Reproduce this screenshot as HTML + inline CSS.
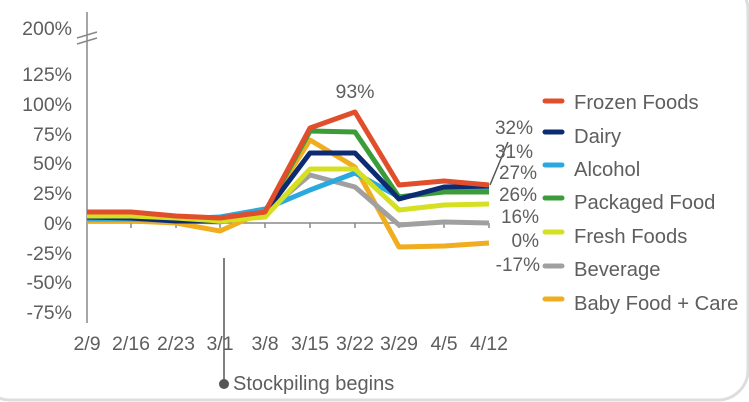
<!DOCTYPE html><html><head><style>body{margin:0;background:#fff}svg{display:block}text{font-family:"Liberation Sans",Arial,sans-serif;fill:#5e5e5e}</style></head><body>
<svg width="749" height="402" viewBox="0 0 749 402">
<rect x="-20" y="-20" width="768" height="420" rx="30" fill="none" stroke="#ddd" stroke-width="3"/>
<g font-size="19.5" text-anchor="end">
<text x="72" y="35">200%</text><text x="72" y="81">125%</text><text x="72" y="111">100%</text><text x="72" y="141">75%</text><text x="72" y="170">50%</text><text x="72" y="200">25%</text><text x="72" y="230">0%</text><text x="72" y="260">-25%</text><text x="72" y="289">-50%</text><text x="72" y="319">-75%</text></g>
<g stroke="#888" stroke-width="1.5" fill="none">
<line x1="87" y1="12" x2="87" y2="323"/><line x1="77" y1="38" x2="97" y2="32"/><line x1="77" y1="44" x2="97" y2="38"/>
<line x1="87" y1="223" x2="489" y2="223"/>
<path d="M131 223v5M176 223v5M220 223v5M265 223v5M310 223v5M355 223v5M399 223v5M444 223v5M489 223v5"/>
<line x1="224" y1="258" x2="224" y2="384" stroke="#555"/>
<line x1="490" y1="185" x2="508" y2="142" stroke="#555"/>
</g>
<circle cx="224" cy="384" r="5" fill="#555"/>
<text x="233" y="390" font-size="20">Stockpiling begins</text>
<g font-size="19.5" text-anchor="middle">
<text x="87" y="350">2/9</text><text x="131" y="350">2/16</text><text x="176" y="350">2/23</text><text x="220" y="350">3/1</text><text x="265" y="350">3/8</text><text x="310" y="350">3/15</text><text x="355" y="350">3/22</text><text x="399" y="350">3/29</text><text x="444" y="350">4/5</text><text x="489" y="350">4/12</text>
<text x="355" y="98">93%</text></g>
<g fill="none" stroke-width="5" stroke-linejoin="round">
<polyline stroke="#f0ad1f" points="87,221 131,221 176,223 220,231 265,211 310,140 355,167 399,247 444,246 489,243"/>
<polyline stroke="#a0a0a0" points="87,219 131,219 176,221 220,222 265,213 310,175 355,187 399,225 444,222 489,223"/>
<polyline stroke="#2aa9df" points="87,219 131,219 176,219 220,217 265,209 310,190 355,173 399,197 444,191 489,191"/>
<polyline stroke="#3c9c3a" points="87,215 131,215 176,217 220,219 265,213 310,131 355,132 399,197 444,192 489,192"/>
<polyline stroke="#0d2b73" points="87,217 131,218 176,221 220,221 265,213 310,153 355,153 399,199 444,187 489,186"/>
<polyline stroke="#d4e021" points="87,216 131,216 176,218 220,221 265,217 310,169 355,169 399,210 444,205 489,204"/>
<polyline stroke="#e04e2b" points="87,212 131,212 176,216 220,218 265,212 310,128 355,112 399,185 444,181 489,185"/>
</g>
<g font-size="19" text-anchor="end">
<text x="533" y="134">32%</text><text x="533" y="158">31%</text><text x="537" y="179">27%</text><text x="537" y="201">26%</text><text x="539" y="223">16%</text><text x="539" y="247">0%</text><text x="540" y="271">-17%</text></g>
<g stroke-width="5" stroke-linecap="round">
<line x1="545" y1="101" x2="562" y2="101" stroke="#e04e2b"/><line x1="545" y1="132" x2="562" y2="132" stroke="#0d2b73"/><line x1="545" y1="165" x2="562" y2="165" stroke="#2aa9df"/><line x1="545" y1="198" x2="562" y2="198" stroke="#3c9c3a"/><line x1="545" y1="232" x2="562" y2="232" stroke="#d4e021"/><line x1="545" y1="266" x2="562" y2="266" stroke="#a0a0a0"/><line x1="545" y1="299" x2="562" y2="299" stroke="#f0ad1f"/></g>
<g font-size="20.2">
<text x="574" y="109">Frozen Foods</text><text x="574" y="143">Dairy</text><text x="574" y="176">Alcohol</text><text x="574" y="209">Packaged Food</text><text x="574" y="243">Fresh Foods</text><text x="574" y="276">Beverage</text><text x="574" y="310">Baby Food + Care</text></g>
</svg></body></html>
